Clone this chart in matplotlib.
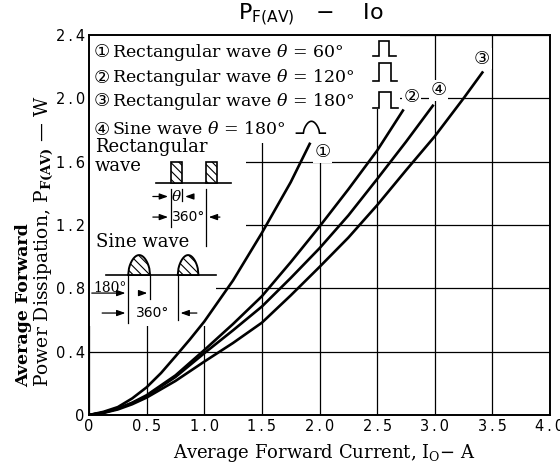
import numpy as np
import matplotlib
matplotlib.use('Agg')
import matplotlib.pyplot as plt
from matplotlib.patches import Rectangle, Polygon

plt.rcParams['mathtext.fontset'] = 'dejavuserif'
plt.rcParams['hatch.linewidth'] = 0.8

# ---------------- data ----------------
c1_x = [0, 0.125, 0.25, 0.375, 0.5, 0.625, 0.75, 0.875, 1.0, 1.25, 1.5, 1.75, 1.92]
c1_y = [0, 0.02, 0.05, 0.105, 0.175, 0.265, 0.37, 0.477, 0.59, 0.85, 1.15, 1.47, 1.72]
c2_x = [0, 0.125, 0.25, 0.375, 0.5, 0.75, 1.0, 1.25, 1.5, 1.75, 2.0, 2.25, 2.5, 2.73]
c2_y = [0, 0.015, 0.04, 0.078, 0.125, 0.25, 0.41, 0.575, 0.75, 0.965, 1.19, 1.425, 1.67, 1.93]
c4_x = [0, 0.125, 0.25, 0.375, 0.5, 0.75, 1.0, 1.25, 1.5, 1.75, 2.0, 2.25, 2.5, 2.75, 2.99]
c4_y = [0, 0.015, 0.04, 0.075, 0.12, 0.24, 0.39, 0.535, 0.685, 0.865, 1.053, 1.26, 1.49, 1.725, 1.96]
c3_x = [0, 0.125, 0.25, 0.375, 0.5, 0.75, 1.0, 1.25, 1.5, 1.75, 2.0, 2.25, 2.5, 2.75, 3.0, 3.25, 3.42]
c3_y = [0, 0.013, 0.035, 0.068, 0.11, 0.215, 0.337, 0.455, 0.583, 0.755, 0.935, 1.12, 1.325, 1.545, 1.76, 2.00, 2.17]

curve_marks = ['①', '②', '④', '③']
legend_rows = ['Rectangular wave $\\theta$ = 60°',
               'Rectangular wave $\\theta$ = 120°',
               'Rectangular wave $\\theta$ = 180°',
               'Sine wave $\\theta$ = 180°']
legend_marks = ['①', '②', '③', '④']

xticks = [0, 0.5, 1.0, 1.5, 2.0, 2.5, 3.0, 3.5, 4.0]
xtick_labels = ['0', '0.5', '1.0', '1.5', '2.0', '2.5', '3.0', '3.5', '4.0']
yticks = [0, 0.4, 0.8, 1.2, 1.6, 2.0, 2.4]
ytick_labels = ['0', '0.4', '0.8', '1.2', '1.6', '2.0', '2.4']

# ---------------- figure ----------------
fig = plt.figure(figsize=(5.6, 4.69), dpi=100)
ax = fig.add_axes([89/560, 54/469, 461/560, 380/469])
ax.set_xlim(0, 4.0)
ax.set_ylim(0, 2.4)

def spaced(s):
    return s.replace('.', '\u2009.\u2009')

ax.set_xticks(xticks)
ax.set_xticklabels([spaced(s) for s in xtick_labels], fontsize=10.5, family='DejaVu Sans')
ax.set_yticks(yticks)
ax.set_yticklabels([spaced(s) for s in ytick_labels], fontsize=10.5, family='DejaVu Sans')
ax.tick_params(length=0, pad=3)
for s in ax.spines.values():
    s.set_linewidth(1.4)
ax.set_axisbelow(True)
ax.grid(True, color='black', lw=0.9)

# white masks where the grid is interrupted by annotations
masks = [(0, 1.93, 2.7, 0.47), (0, 1.72, 2.06, 0.21), (0, 1.12, 1.36, 0.60), (0, 0.56, 1.10, 0.56)]
for (mx, my, mw, mh) in masks:
    ax.add_patch(Rectangle((mx, my), mw, mh, facecolor='white', edgecolor='none', zorder=1.5))

# curves
for xs, ys in [(c1_x, c1_y), (c2_x, c2_y), (c4_x, c4_y), (c3_x, c3_y)]:
    ax.plot(xs, ys, color='black', lw=1.9, zorder=3, solid_capstyle='butt', solid_joinstyle='round')

# curve labels
lab_pos = [(2.03, 1.66), (2.80, 2.01), (3.03, 2.05), (3.41, 2.25)]
for m, (lx, ly) in zip(curve_marks, lab_pos):
    ax.text(lx, ly, m, ha='center', va='center', fontsize=13,
            family=['DejaVu Sans', 'Noto Sans CJK JP'], zorder=4,
            bbox=dict(facecolor='white', edgecolor='none', pad=1.0))

# legend rows
row_y = [2.29, 2.13, 1.98, 1.80]
for m, t, ry in zip(legend_marks, legend_rows, row_y):
    ax.text(0.04, ry, m, ha='left', va='center', fontsize=13,
            family=['DejaVu Sans', 'Noto Sans CJK JP'], zorder=4)
    ax.text(0.20, ry, t, ha='left', va='center', fontsize=12.5, family='DejaVu Serif', zorder=4)

kw = dict(color='black', lw=1.2, zorder=4, solid_joinstyle='miter')
# pulse symbols
for (yb, yt, s0, p0, p1, s1) in [(2.27, 2.36, 2.46, 2.52, 2.60, 2.66),
                                 (2.11, 2.22, 2.46, 2.52, 2.62, 2.67),
                                 (1.94, 2.04, 2.46, 2.52, 2.62, 2.68)]:
    ax.plot([s0, p0, p0, p1, p1, s1], [yb, yb, yt, yt, yb, yb], **kw)
# sine symbol
t = np.linspace(0, np.pi, 30)
hx = 1.86 + (2.00 - 1.86) * t / np.pi
hy = 1.78 + 0.075 * np.sin(t) ** 0.6
ax.plot(np.r_[1.80, hx, 2.05], np.r_[1.78, hy, 1.78], **kw)

# --- rectangular wave inset ---
ax.text(0.05, 1.69, 'Rectangular', ha='left', va='center', fontsize=13, family='DejaVu Serif', zorder=4)
ax.text(0.05, 1.57, 'wave', ha='left', va='center', fontsize=13, family='DejaVu Serif', zorder=4)
yb, yt = 1.466, 1.598
ax.plot([0.58, 1.23], [yb, yb], **kw)
for (a, b) in [(0.71, 0.81), (1.015, 1.11)]:
    ax.add_patch(Polygon([(a, yb), (a, yt), (b, yt), (b, yb)], closed=True,
                         facecolor='white', edgecolor='black', lw=1.2, hatch='\\\\\\\\', zorder=4))
ax.plot([0.71, 0.71], [1.43, 1.19], color='black', lw=0.9, zorder=4)
ax.plot([0.81, 0.81], [1.43, 1.35], color='black', lw=0.9, zorder=4)
ax.plot([1.015, 1.015], [1.43, 1.07], color='black', lw=0.9, zorder=4)
arr = dict(arrowstyle='-|>,head_length=0.5,head_width=0.18', color='black', lw=0.9)
ax.annotate('', xy=(0.71, 1.38), xytext=(0.53, 1.38), arrowprops=arr, zorder=4)
ax.annotate('', xy=(0.81, 1.38), xytext=(0.93, 1.38), arrowprops=arr, zorder=4)
ax.text(0.76, 1.38, '$\\theta$', ha='center', va='center', fontsize=11, zorder=5)
ax.annotate('', xy=(0.71, 1.25), xytext=(0.53, 1.25), arrowprops=arr, zorder=4)
ax.annotate('', xy=(1.015, 1.25), xytext=(1.16, 1.25), arrowprops=arr, zorder=4)
ax.text(0.865, 1.25, '360°', ha='center', va='center', fontsize=10, family='DejaVu Sans', zorder=5)

# --- sine wave inset ---
ax.text(0.06, 1.09, 'Sine wave', ha='left', va='center', fontsize=13, family='DejaVu Serif', zorder=4)
yb, yp = 0.884, 1.01
ax.plot([0.15, 1.10], [yb, yb], **kw)
for (a, b) in [(0.34, 0.53), (0.77, 0.95)]:
    xs = a + (b - a) * t / np.pi
    ys = yb + (yp - yb) * np.sin(t) ** 0.5
    ax.add_patch(Polygon(np.c_[xs, ys], closed=True, facecolor='white', edgecolor='black',
                         lw=1.4, hatch='\\\\\\\\', zorder=4))
ax.plot([0.34, 0.34], [yb, 0.58], color='black', lw=0.9, zorder=4)
ax.plot([0.53, 0.53], [yb, 0.73], color='black', lw=0.9, zorder=4)
ax.plot([0.77, 0.77], [yb, 0.60], color='black', lw=0.9, zorder=4)
ax.text(0.04, 0.80, '180°', ha='left', va='center', fontsize=10, family='DejaVu Serif', zorder=5)
ax.annotate('', xy=(0.34, 0.77), xytext=(0.0, 0.77), arrowprops=arr, zorder=4)
ax.annotate('', xy=(0.53, 0.77), xytext=(0.42, 0.77), arrowprops=arr, zorder=4)
ax.annotate('', xy=(0.34, 0.644), xytext=(0.09, 0.644), arrowprops=arr, zorder=4)
ax.annotate('', xy=(0.77, 0.644), xytext=(0.96, 0.644), arrowprops=arr, zorder=4)
ax.text(0.555, 0.644, '360°', ha='center', va='center', fontsize=10, family='DejaVu Sans', zorder=5)

# --- titles / labels ---
fig.text(311/560, (469-15)/469, 'P$_{\\mathsf{F(AV)}}$   \u2212    Io', ha='center', va='center',
         fontsize=16, family='DejaVu Sans')
fig.text(324/560, (469-453)/469, 'Average Forward Current, I$_{\\mathrm{O}}$\u2212 A',
         ha='center', va='center', fontsize=13, family='DejaVu Serif')
fig.text(24/560, (469-387)/469, 'Average Forward', rotation=90, ha='center', va='bottom',
         fontsize=12.5, family='DejaVu Serif', fontweight='bold')
fig.text(44/560, (469-387)/469, 'Power Dissipation, P$_{\\mathbf{F(AV)}}$ \u2014 W', rotation=90,
         ha='center', va='bottom', fontsize=13.5, family='DejaVu Serif')

fig.savefig('out.png', dpi=100)
